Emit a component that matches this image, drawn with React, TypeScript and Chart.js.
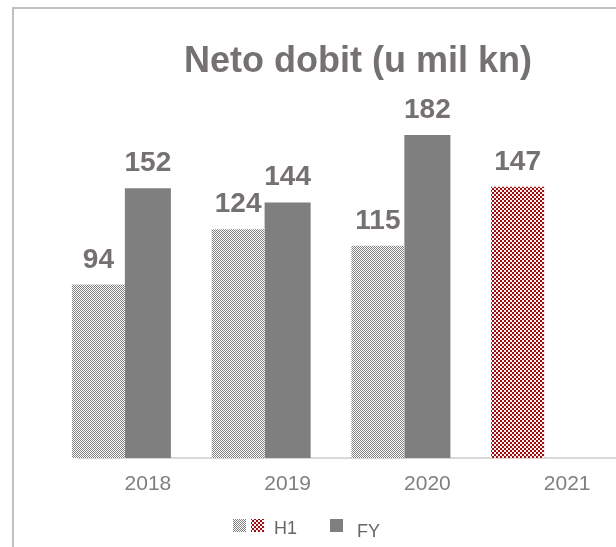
import React, { useEffect, useRef } from "react";
import { Chart, registerables } from "chart.js";

Chart.register(...registerables);

// ---- data ----
const categories = ["2018", "2019", "2020", "2021"];
const h1Values: (number | null)[] = [94, 124, 115, 147];
const fyValues: (number | null)[] = [152, 144, 182, null];
const spacerValues: (number | null)[] = [null, null, null, null];
const h1Highlight = [false, false, false, true];
const titleText = "Neto dobit (u mil kn)";
const legendH1 = "H1";
const legendFY = "FY";

const FONT = '"Liberation Sans", Arial, Helvetica, sans-serif';
const CANVAS_W = 700;
const CANVAS_H = 547;

function makeChecker(ctx: CanvasRenderingContext2D, cell: number, dark: string, light: string) {
  const c = document.createElement("canvas");
  c.width = cell * 2;
  c.height = cell * 2;
  const x = c.getContext("2d")!;
  x.fillStyle = light;
  x.fillRect(0, 0, cell * 2, cell * 2);
  x.fillStyle = dark;
  x.fillRect(0, 0, cell, cell);
  x.fillRect(cell, cell, cell, cell);
  return ctx.createPattern(c, "repeat")!;
}

export default function App() {
  const ref = useRef<HTMLCanvasElement | null>(null);

  useEffect(() => {
    const canvas = ref.current!;
    const ctx = canvas.getContext("2d")!;
    const greyPat = makeChecker(ctx, 1, "#808080", "#ffffff");
    const redPat = makeChecker(ctx, 2, "#c00000", "#ffffff");
    const fyColor = "#7f7f7f";

    const overlay = {
      id: "overlay",
      afterDatasetsDraw(chart: any) {
        const c = chart.ctx as CanvasRenderingContext2D;
        c.save();
        // data labels
        c.font = `bold 28px ${FONT}`;
        c.fillStyle = "#767171";
        c.textAlign = "center";
        c.textBaseline = "alphabetic";
        [0, 1].forEach((di) => {
          const meta = chart.getDatasetMeta(di);
          const data = chart.data.datasets[di].data;
          meta.data.forEach((bar: any, i: number) => {
            const v = data[i];
            if (v === null || v === undefined) return;
            c.fillText(String(v), bar.x, bar.y - 17);
          });
        });
        // title
        c.font = `bold 36px ${FONT}`;
        c.fillStyle = "#767171";
        c.fillText(titleText, 358, 72);
        // legend
        c.fillStyle = greyPat;
        c.fillRect(233, 519, 13, 13);
        c.fillStyle = redPat;
        c.fillRect(251, 519, 13, 13);
        c.fillStyle = fyColor;
        c.fillRect(330, 519, 13, 13);
        c.font = `18px ${FONT}`;
        c.fillStyle = "#666666";
        c.textAlign = "left";
        c.fillText(legendH1, 274, 534);
        c.fillText(legendFY, 357, 536.5);
        c.restore();
      },
    };

    const chart = new Chart(canvas, {
      type: "bar",
      data: {
        labels: categories,
        datasets: [
          {
            label: legendH1,
            data: h1Values,
            yAxisID: "y2",
            backgroundColor: h1Highlight.map((h) => (h ? redPat : greyPat)),
            borderWidth: 0,
            categoryPercentage: 1.0626,
            barPercentage: 1.07,
            clip: false as any,
          },
          {
            label: legendFY,
            data: fyValues,
            yAxisID: "y",
            backgroundColor: fyColor,
            borderWidth: 0,
            categoryPercentage: 1.0626,
            barPercentage: 0.93,
            clip: false as any,
          },
          {
            label: "",
            data: spacerValues,
            yAxisID: "y",
            backgroundColor: "rgba(0,0,0,0)",
            categoryPercentage: 1.0626,
            barPercentage: 1,
          },
        ],
      },
      options: {
        responsive: false,
        animation: false,
        devicePixelRatio: 1,
        layout: { padding: { left: 78, right: CANVAS_W - 637, top: 103, bottom: 0 } },
        plugins: {
          legend: { display: false },
          tooltip: { enabled: false },
          title: { display: false },
        },
        scales: {
          x: {
            type: "category",
            grid: { display: false, drawTicks: false },
            border: { display: true, color: "#d9d9d9", width: 2 },
            ticks: {
              font: { family: FONT, size: 21 },
              color: "#7f7f7f",
              padding: 14,
              autoSkip: false,
              maxRotation: 0,
            },
            afterFit: (s: any) => {
              s.height = 89;
            },
          },
          y: { display: false, min: 0, max: 200 },
          y2: { display: false, min: 0, max: 192.4 },
        },
      },
      plugins: [overlay],
    } as any);

    return () => chart.destroy();
  }, []);

  return (
    <div
      style={{
        position: "fixed",
        left: 0,
        top: 0,
        width: 616,
        height: 547,
        overflow: "hidden",
        background: "#ffffff",
      }}
    >
      <canvas
        ref={ref}
        width={CANVAS_W}
        height={CANVAS_H}
        style={{ position: "absolute", left: 0, top: 0, width: CANVAS_W, height: CANVAS_H }}
      />
      <div
        style={{
          position: "absolute",
          left: 12,
          top: 7,
          width: 700,
          height: 700,
          borderLeft: "2px solid #c0c0c0",
          borderTop: "2px solid #c0c0c0",
          pointerEvents: "none",
        }}
      />
    </div>
  );
}
